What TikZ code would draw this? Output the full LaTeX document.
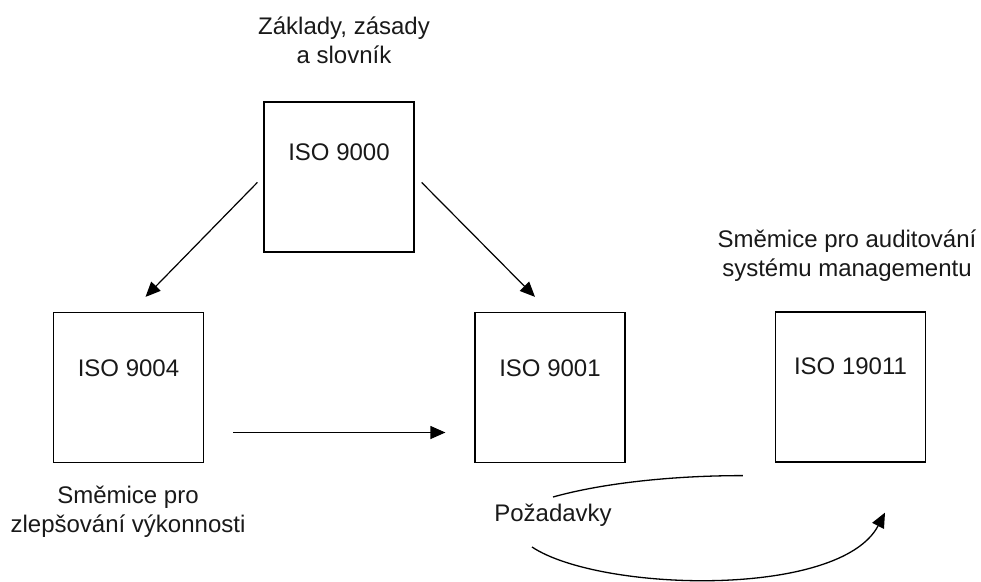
\documentclass[tikz,border=0pt]{standalone}
\usepackage{fontspec}
\setmainfont{Liberation Sans}
\usetikzlibrary{positioning,arrows.meta}
\tikzset{%
  isobox/.style={%
    draw=black,
    line width=1.2pt,
    minimum width=150pt,
    inner sep=0pt,
    text height=64pt,
    text depth=86pt,
    font=\fontsize{24pt}{29pt}\selectfont,
    text=black!90
  },
  note/.style={%
    align=center,
    inner sep=0pt,
    font=\fontsize{24pt}{29pt}\selectfont,
    text=black!90
  },
  ptr/.style={%
    -{Triangle[length=15pt,width=13pt]},
    line width=1.2pt
  }
}

\begin{document}
\begin{tikzpicture}[x=1pt,y=-1pt]
    \useasboundingbox (0,0) rectangle (981,581);

    % the four standards
    \node[isobox,text height=58pt,text depth=92pt] (iso9000) at (339,177) {ISO 9000};
    \node[isobox] (iso9004) at (128.5,387.5) {ISO 9004};
    \node[isobox] (iso9001) at (550,387.5) {ISO 9001};
    \node[isobox,text height=62pt,text depth=88pt] (iso19011) at (850.5,387) {ISO 19011};

    % captions
    \node[note] (basics) at (344,40) {Základy, zásady\\a slovník};
    \node[note] (improve) at (128,512) {Směmice pro\\zlepšování výkonnosti};
    \node[note] (audit) at (847,256) {Směmice pro auditování\\systému managementu};
    \node[note] (req) at (553,515) {Požadavky};

    \draw[ptr] ([shift={(-6pt,-81pt)}]iso9000.north west) -- ([shift={(17pt,15pt)}]iso9004.north);
    \draw[ptr] ([shift={(7pt,-81pt)}]iso9000.north east) -- ([shift={(-15pt,15pt)}]iso9001.north);
    \draw[ptr] ([shift={(29pt,-45pt)}]iso9004.east) -- ([shift={(-29pt,-45pt)}]iso9001.west);

    % loop round the requirements
    \draw[line width=1.3pt]
    ([yshift=18pt]req.center) .. controls +(50pt,14pt) and +(-70pt,0pt) .. ([shift={(-32pt,-13pt)}]iso19011.south west);
    \draw[ptr,line width=1.3pt]
    ([shift={(-21pt,-32pt)}]req.center) .. controls +(68pt,-45pt) and +(-45pt,-86pt) .. ([shift={(34.5pt,-50pt)}]iso19011.south);
  \end{tikzpicture}
\end{document}
